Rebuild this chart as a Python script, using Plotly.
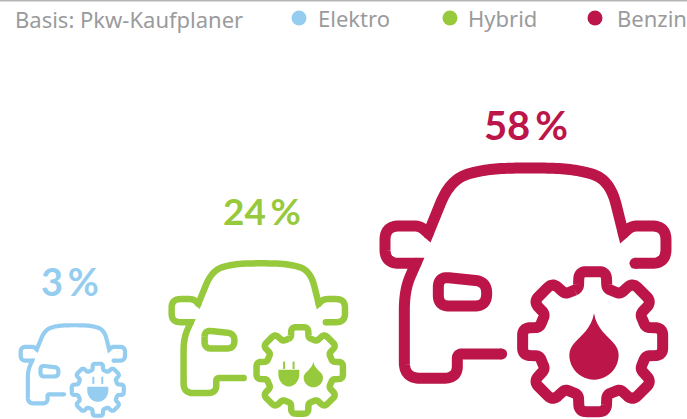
import math
import plotly.graph_objects as go

# ---- data ----
categories = ["Elektro", "Hybrid", "Benzin"]
shares = [3, 24, 58]
colors = ["#95cdf0", "#97c93c", "#bb1549"]
basis_label = "Basis: Pkw-Kaufplaner"

# ---- layout (pixel-like axes) ----
W, H = 687, 419
label_x = [70, 262, 526]
label_y = [286, 216, 130]
label_size = [38, 37, 40]
icon_scale = [0.1238, 0.2056, 0.3333]
icon_ox = [15.1, 162.4, 370]
icon_oy = [300, 221.4, 100]
stroke = [4.2, 6.5, 11]
legend_dot_x = [299, 450, 595]
legend_text_x = [316, 466, 615]

CAR = [
    [(395,762,0),(262,762,14),(262,835,42),(103,835,48),(103,570,60),(138,490,0),
     (45,490,42),(45,378,42),(150,378,16),(175,400,0),(240,240,75),(340,207,70),
     (480,203,120),(620,207,70),(720,240,75),(760,400,0),(785,378,16),(888,378,42),
     (888,490,42),(795,490,0)],
]
CAR_DOTS = [(395,762),(138,490),(175,400),(760,400),(795,490)]
WINDOW = [(205,530,32),(350,545,34),(350,618,36),(205,618,32)]
GEAR_C = (668, 725)


def rounded(pts, closed=False, n=16):
    out = []
    m = len(pts)
    for i, (x, y, r) in enumerate(pts):
        if not closed and i in (0, m - 1) or r == 0:
            out.append((x, y))
            continue
        px, py, _ = pts[(i - 1) % m]
        qx, qy, _ = pts[(i + 1) % m]
        d1 = math.hypot(px - x, py - y)
        d2 = math.hypot(qx - x, qy - y)
        r1 = min(r, d1 / 2)
        r2 = min(r, d2 / 2)
        a = (x + (px - x) * r1 / d1, y + (py - y) * r1 / d1)
        b = (x + (qx - x) * r2 / d2, y + (qy - y) * r2 / d2)
        for k in range(n + 1):
            t = k / n
            out.append(((1-t)**2*a[0] + 2*t*(1-t)*x + t*t*b[0],
                        (1-t)**2*a[1] + 2*t*(1-t)*y + t*t*b[1]))
    if closed:
        out.append(out[0])
    return out


def gear_points():
    pts = []
    for k in range(8):
        a0 = k * 45
        for da, R, r in [(-15, 165, 12), (-11, 214, 22), (11, 214, 22), (15, 165, 12)]:
            a = math.radians(a0 + da)
            pts.append((GEAR_C[0] + R * math.sin(a), GEAR_C[1] - R * math.cos(a), r))
    return pts


def drop(cx, cy, r, top):
    out = []
    for k in range(13):
        t = k / 12
        x0, y0 = cx, top
        c1 = (cx - 0.16 * r, top + 0.55 * (cy - top))
        c2 = (cx - r, cy - 0.62 * r)
        x3, y3 = cx - r, cy
        out.append(((1-t)**3*x0 + 3*t*(1-t)**2*c1[0] + 3*t*t*(1-t)*c2[0] + t**3*x3,
                    (1-t)**3*y0 + 3*t*(1-t)**2*c1[1] + 3*t*t*(1-t)*c2[1] + t**3*y3))
    for k in range(1, 25):
        a = math.pi - math.pi * k / 24
        out.append((cx + r * math.cos(a), cy + r * math.sin(a)))
    for x, y in reversed(out[:12]):
        out.append((2 * cx - x, y))
    return out


def plug(cx, top, hw, h):
    out = [(cx - hw, top), (cx + hw, top)]
    for k in range(25):
        a = math.pi * k / 24
        out.append((cx + hw * math.cos(a), top + h * 0.25 + h * 0.75 * math.sin(a)))
    out.append((cx - hw, top))
    return out


# inner symbols per icon, in the icon's own unit space
SYMBOLS = [
    {"plugs": [(668, 700, 85, 122, 36, 620, 678)], "drops": []},
    {"plugs": [(615, 722, 51, 81, 23, 682, 718)], "drops": [(734, 760, 47, 682)]},
    {"plugs": [], "drops": [(672, 765, 74, 640)]},
]

fig = go.Figure()


def add_line(points, i, dots=()):
    s, ox, oy = icon_scale[i], icon_ox[i], icon_oy[i]
    fig.add_trace(go.Scatter(
        x=[ox + p[0] * s for p in points], y=[oy + p[1] * s for p in points],
        mode="lines", line=dict(color=colors[i], width=stroke[i], simplify=False),
        hoverinfo="skip", showlegend=False))
    if dots:
        fig.add_trace(go.Scatter(
            x=[ox + p[0] * s for p in dots], y=[oy + p[1] * s for p in dots],
            mode="markers", marker=dict(color=colors[i], size=stroke[i], line=dict(width=0)),
            hoverinfo="skip", showlegend=False))


def add_fill(points, i):
    s, ox, oy = icon_scale[i], icon_ox[i], icon_oy[i]
    fig.add_trace(go.Scatter(
        x=[ox + p[0] * s for p in points], y=[oy + p[1] * s for p in points],
        mode="lines", line=dict(color=colors[i], width=0, simplify=False), fill="toself",
        fillcolor=colors[i], hoverinfo="skip", showlegend=False))


for i in range(len(categories)):
    add_line(rounded(CAR[0]), i, CAR_DOTS)
    add_line(rounded(WINDOW, closed=True), i)
    add_line(rounded(gear_points(), closed=True), i)
    for cx, top, hw, h, dx, p0, p1 in SYMBOLS[i]["plugs"]:
        add_fill(plug(cx, top, hw, h), i)
        s, ox, oy = icon_scale[i], icon_ox[i], icon_oy[i]
        for sign in (-1, 1):
            fig.add_trace(go.Scatter(
                x=[ox + (cx + sign * dx) * s] * 2, y=[oy + p0 * s, oy + p1 * s],
                mode="lines", line=dict(color=colors[i], width=2),
                hoverinfo="skip", showlegend=False))
    for cx, cy, r, top in SYMBOLS[i]["drops"]:
        add_fill(drop(cx, cy, r, top), i)

# value labels
for i, c in enumerate(categories):
    fig.add_trace(go.Scatter(
        x=[label_x[i]], y=[label_y[i]], mode="text", text=[f"{shares[i]}\u2009%"],
        textposition="middle center",
        textfont=dict(family="Lato", size=label_size[i], color=colors[i], weight=700),
        hoverinfo="skip", showlegend=False))

# legend row
fig.add_trace(go.Scatter(
    x=legend_dot_x, y=[18] * 3, mode="markers",
    marker=dict(color=colors, size=15, line=dict(width=0)),
    hoverinfo="skip", showlegend=False))
annotations = [dict(x=13, y=19, text=basis_label, xanchor="left", yanchor="middle",
                    showarrow=False, xref="x", yref="y",
                    font=dict(family="Noto Sans", size=22, color="#9a9b9d"))]
for i, c in enumerate(categories):
    annotations.append(dict(x=legend_text_x[i], y=18, text=c, xanchor="left", yanchor="middle",
                            showarrow=False, xref="x", yref="y",
                            font=dict(family="Noto Sans", size=22, color="#9a9b9d")))

fig.add_shape(type="line", xref="paper", yref="paper", x0=0, x1=1, y0=1, y1=1,
              line=dict(color="#b5b5b5", width=3))

fig.update_layout(
    width=W, height=H, margin=dict(l=0, r=0, t=0, b=0),
    paper_bgcolor="white", plot_bgcolor="white", showlegend=False,
    xaxis=dict(range=[0, W], visible=False, fixedrange=True),
    yaxis=dict(range=[H, 0], visible=False, fixedrange=True),
    annotations=annotations,
)
fig.write_html("out.html", config={"displayModeBar": False},
               post_script="document.body.style.margin='0';document.body.style.overflow='hidden';")
